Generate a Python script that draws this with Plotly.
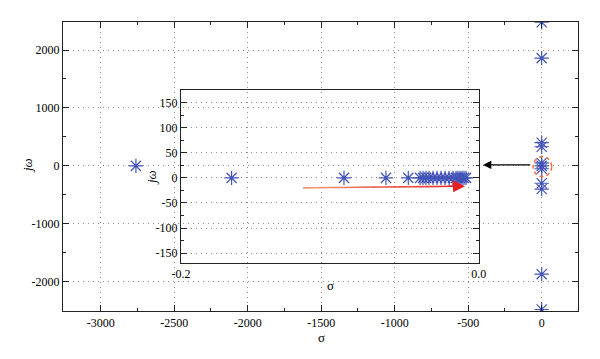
import plotly.graph_objects as go

# ---------------- data ----------------
main_sigma = [-2760, 0, 0, 0, 0, 0, 0, 0, 0, 0, 0, 0]
main_jw = [0, 2480, 1860, 400, 330, 50, 0, -50, -300, -400, -1870, -2480]

inset_sigma = [-0.166, -0.0905, -0.0623, -0.0473, -0.0394, -0.0374, -0.0354,
               -0.0334, -0.0307, -0.028, -0.0253, -0.0226, -0.0199, -0.0173,
               -0.0152, -0.0139, -0.0125, -0.0112, -0.0099, -0.0085]
inset_jw = [0] * len(inset_sigma)

main_xticks = [-3000, -2500, -2000, -1500, -1000, -500, 0]
main_xtick_text = ["-3000", "-2500", "-2000", "-1500", "-1000", "-500", "0"]
main_yticks = [-2000, -1000, 0, 1000, 2000]
main_ytick_text = ["-2000", "-1000", "0", "1000", "2000"]
inset_xticks = [-0.2, 0.0]
inset_xtick_text = ["-0.2", "0.0"]
inset_yticks = [-150, -100, -50, 0, 50, 100, 150]
inset_ytick_text = ["-150", "-100", "-50", "0", "50", "100", "150"]

# arrows / highlight (annotation geometry)
black_arrow_head = (-400, 17)
black_arrow_tail = (-68, 17)
red_arrow_tail = (-0.118, -19.9)
red_arrow_head = (-0.0092, -16.5)
circle_box = (-59, 68, -185, 160)

FONT = "Liberation Serif"
BLUE = "#4354b8"
GRID = "#8c8c8c"
GRIDDASH = "1px,4px"

# page body has an 8px margin: shrink the figure so the plot lands where it should
OFF = 8
W, H = 600 - OFF, 359 - OFF
L, R, T, B = 63, 578, 22, 311  # plot area in window pixels

fig = go.Figure()

star = dict(symbol="asterisk-open", size=12, color=BLUE, line=dict(color=BLUE, width=1.2))

fig.add_trace(go.Scatter(x=main_sigma, y=main_jw, mode="markers", marker=star,
                         xaxis="x", yaxis="y", showlegend=False))
fig.add_trace(go.Scatter(x=inset_sigma, y=inset_jw, mode="markers", marker=star,
                         xaxis="x2", yaxis="y2", showlegend=False))

axis_common = dict(showline=True, linecolor="#222", linewidth=1.3, mirror="ticks",
                   ticks="inside", ticklen=6, tickcolor="#222", tickwidth=1.2,
                   zeroline=False, tickfont=dict(family=FONT, size=12, color="black"))

fig.update_layout(
    width=W, height=H,
    margin=dict(l=L - OFF, r=W - (R - OFF), t=T - OFF, b=H - (B - OFF), pad=0),
    paper_bgcolor="white", plot_bgcolor="rgba(0,0,0,0)",
    font=dict(family=FONT, size=12, color="black"),
    xaxis=dict(domain=[0, 1], range=[-3256, 247], tickvals=main_xticks,
               ticktext=main_xtick_text, showgrid=True, gridcolor=GRID, griddash=GRIDDASH,
               gridwidth=1,
               minor=dict(dtick=250, tick0=0, ticks="inside", ticklen=3,
                          tickcolor="#222", showgrid=False),
               **axis_common),
    yaxis=dict(domain=[0, 1], range=[-2506, 2484], tickvals=main_yticks,
               ticktext=main_ytick_text, showgrid=True, gridcolor=GRID, griddash=GRIDDASH,
               gridwidth=1,
               minor=dict(dtick=500, tick0=0, ticks="inside", ticklen=3,
                          tickcolor="#222", showgrid=False),
               **axis_common),
    xaxis2=dict(domain=[0.2291, 0.8072], range=[-0.2, 0.0], anchor="y2",
                tickvals=inset_xticks, ticktext=inset_xtick_text, showgrid=False,
                showline=True, linecolor="#222", linewidth=1.3, mirror=True,
                ticks="", zeroline=False,
                tickfont=dict(family=FONT, size=12, color="black")),
    yaxis2=dict(domain=[0.1671, 0.7664], range=[-169, 176], anchor="x2",
                tickvals=inset_yticks, ticktext=inset_ytick_text, showgrid=True,
                gridcolor=GRID, griddash=GRIDDASH, gridwidth=1,
                minor=dict(dtick=25, tick0=0, ticks="inside", ticklen=3,
                           tickcolor="#222", showgrid=False),
                **axis_common),
)

# orange dashed circle around origin cluster
fig.add_shape(type="circle", xref="x", yref="y",
              x0=circle_box[0], x1=circle_box[1], y0=circle_box[2], y1=circle_box[3],
              line=dict(color="#f07038", width=1.5, dash="4px,3px"))

annotations = []
# black arrow
annotations.append(dict(x=black_arrow_head[0], y=black_arrow_head[1], xref="x", yref="y",
                        ax=black_arrow_tail[0], ay=black_arrow_tail[1], axref="x", ayref="y",
                        text="", showarrow=True, arrowhead=2, arrowsize=1.3,
                        arrowwidth=1.3, arrowcolor="black"))

# red gradient arrow (segments from orange to red)
nseg = 12
c0 = (244, 150, 120)
c1 = (230, 30, 35)
for i in range(nseg):
    t0 = i / nseg
    t1 = (i + 1) / nseg
    if t0 >= 0.93:
        continue
    xa = red_arrow_tail[0] + (red_arrow_head[0] - red_arrow_tail[0]) * t0
    ya = red_arrow_tail[1] + (red_arrow_head[1] - red_arrow_tail[1]) * t0
    xb = red_arrow_tail[0] + (red_arrow_head[0] - red_arrow_tail[0]) * min(t1, 0.93)
    yb = red_arrow_tail[1] + (red_arrow_head[1] - red_arrow_tail[1]) * min(t1, 0.93)
    tc = (i + 0.5) / nseg
    col = "rgb(%d,%d,%d)" % tuple(int(c0[k] + (c1[k] - c0[k]) * tc) for k in range(3))
    fig.add_shape(type="line", xref="x2", yref="y2", x0=xa, y0=ya, x1=xb, y1=yb,
                  line=dict(color=col, width=1.6))
annotations.append(dict(x=red_arrow_head[0], y=red_arrow_head[1], xref="x2", yref="y2",
                        ax=red_arrow_head[0] - 0.012, ay=red_arrow_head[1] - 0.35,
                        axref="x2", ayref="y2", text="", showarrow=True, arrowhead=2,
                        arrowsize=1.5, arrowwidth=1.6, arrowcolor="rgb(232,30,35)"))

# axis titles (centre positions in window pixels, converted to paper coords)
titles = [
    dict(text="σ", x=321, y=337, angle=0),
    dict(text="σ", x=330, y=285, angle=0),
    dict(text="<i>jω</i>", x=27, y=166, angle=-90),
    dict(text="<i>jω</i>", x=151, y=178, angle=-90),
]
for t in titles:
    annotations.append(dict(text=t["text"], x=(t["x"] - L) / (R - L), y=(B - t["y"]) / (B - T),
                            xref="paper", yref="paper", textangle=t["angle"],
                            xanchor="center", yanchor="middle",
                            showarrow=False, font=dict(family=FONT, size=13, color="black")))

fig.update_layout(annotations=annotations)

fig.write_html("out.html")
